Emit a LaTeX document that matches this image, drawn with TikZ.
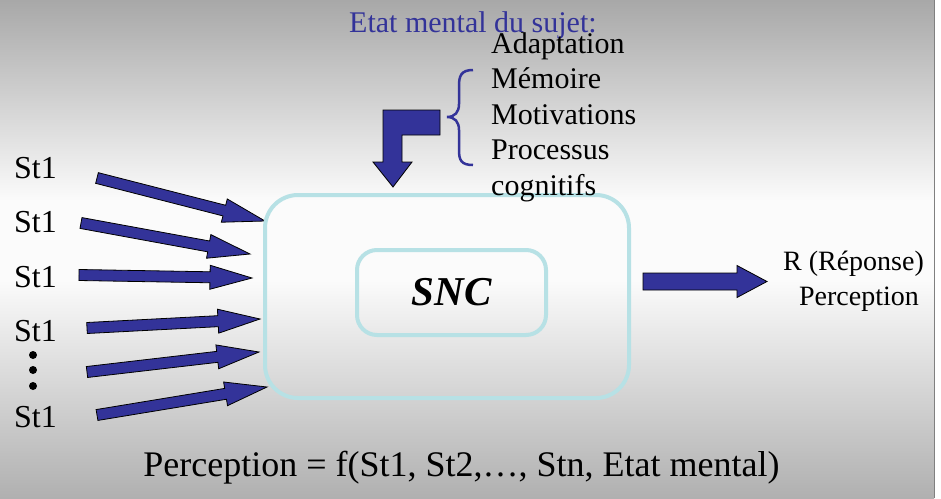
\documentclass[tikz,border=0pt]{standalone}
\usepackage{fontspec}
\setmainfont{Liberation Serif}
\usetikzlibrary{calc,positioning}

\definecolor{arrowblue}{RGB}{51,51,153}
\definecolor{boxcyan}{RGB}{183,225,229}
\definecolor{bgtop}{RGB}{168,168,168}
\definecolor{bgmid}{RGB}{251,251,251}
\definecolor{bgbot}{RGB}{176,176,176}

\tikzset{
  blockarrow/.style={fill=arrowblue, draw=black, line width=0.8pt, line join=miter},
  stlabel/.style={anchor=base west, inner sep=0pt, font=\fontsize{32}{38}\selectfont},
  listitem/.style={anchor=base west, inner sep=0pt, font=\fontsize{30}{36}\selectfont},
  cnsbox/.style={draw=boxcyan, line width=4pt, rounded corners=#1},
}

% block arrow: tail, tip, half shaft, half head, head length
\newcommand{\blockarr}[5]{%
  \coordinate (hb) at ($(#2)!#5!(#1)$);
  \draw[blockarrow] ($(#1)!#3!90:(#2)$) -- ($(hb)!#3!90:(#2)$) -- ($(hb)!#4!90:(#2)$)
    -- (#2) -- ($(hb)!#4!-90:(#2)$) -- ($(hb)!#3!-90:(#2)$) -- ($(#1)!#3!-90:(#2)$) -- cycle;}

\begin{document}
\begin{tikzpicture}[x=1pt, y=-1pt]
    \useasboundingbox (0,0) rectangle (941,498);
    \fill[white] (0,0) rectangle (941,498);
    % slide background
    \shade[top color=bgtop, bottom color=bgmid] (0,0) rectangle (934,200.5);
    \fill[bgmid] (0,200) rectangle (934,280.5);
    \shade[top color=bgmid, bottom color=bgbot] (0,280) rectangle (934,498);
    \draw[gray, line width=1pt] (934.5,0) -- (934.5,498);

    % stimuli
    \node[stlabel] (st1) at (14,178) {St1};
    \node[stlabel] (st2) at (14,232) {St1};
    \node[stlabel] (st3) at (14,287) {St1};
    \node[stlabel] (st4) at (14,341) {St1};
    \node[stlabel] (st6) at (14,427) {St1};
    \foreach \y in {355,370,386}
        \fill (33,\y) circle (4);

    \coordinate (in1) at (97,178);   \coordinate (hit1) at (265,221);
    \coordinate (in2) at (81,223);   \coordinate (hit2) at (250,254);
    \coordinate (in3) at (79,275);   \coordinate (hit3) at (252,278);
    \coordinate (in4) at (87,328);   \coordinate (hit4) at (260,319);
    \coordinate (in5) at (87,372);   \coordinate (hit5) at (259,352);
    \coordinate (in6) at (97,415);   \coordinate (hit6) at (267,387);
    \foreach \i in {1,...,6} {
        \blockarr{in\i}{hit\i}{5.5pt}{12pt}{42pt}
    }

    % central nervous system
    \node[cnsbox=33pt, minimum width=364, minimum height=203] (cns) at (447,296.5) {};
    \node[cnsbox=20pt, minimum width=189, minimum height=85,
          font=\fontsize{41}{48}\selectfont\bfseries\itshape] (snc) at (451.5,292.5) {SNC};

    % mental state
    \node[anchor=base west, inner sep=0pt, text=arrowblue,
          font=\fontsize{30}{36}\selectfont] (etat) at (349,32) {Etat mental du sujet:};
    \foreach \word [count=\i] in {Adaptation, Mémoire, Motivations, Processus, cognitifs}
        \node[listitem] (item\i) at (491,{53+35.5*(\i-1)}) {\word};
    \draw[arrowblue, line width=2.5pt]
        (473,70) .. controls (461,70) and (459,76) .. (459,86) -- (459,104)
        .. controls (459,112) and (455,117) .. (447,117)
        .. controls (455,117) and (459,122) .. (459,130) -- (459,150)
        .. controls (459,160) and (461,165) .. (473,165);
    \draw[blockarrow] (440,110) -- (383,110) -- (383,162) -- (373,162) -- (393,187)
        -- (412,162) -- (402,162) -- (402,135) -- (440,135) -- cycle;

    % response
    \coordinate (out) at (643,281.5);
    \coordinate (resp) at (767,281.5);
    \blockarr{out}{resp}{8.5pt}{16pt}{30pt}
    \node[anchor=base, inner sep=0pt, font=\fontsize{28}{34}\selectfont] (rep) at (853.5,270) {R (Réponse)};
    \node[anchor=base, inner sep=0pt, font=\fontsize{28}{34}\selectfont] (perc) at (859,305) {Perception};

    \node[anchor=base, inner sep=0pt, font=\fontsize{36}{43}\selectfont] (formula) at (461.5,476.5)
        {Perception = f(St1, St2,…, Stn, Etat mental)};
\end{tikzpicture}
\end{document}
